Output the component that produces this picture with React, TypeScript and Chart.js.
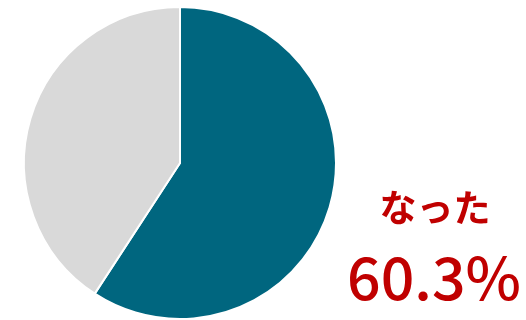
import React, { useEffect, useRef } from "react";
import { Chart, registerables } from "chart.js";

Chart.register(...registerables);

const categories: string[] = ["なった", "ならなかった"];
// slice sizes as drawn in the picture (teal slice covers ~59% of the circle)
const values: number[] = [59.2, 40.8];
const colors: string[] = ["#00667F", "#D9D9D9"];
const labelText = "なった";
const valueText = "60.3%";

export default function App() {
  const ref = useRef<HTMLCanvasElement | null>(null);
  useEffect(() => {
    if (!ref.current) return;
    const chart = new Chart(ref.current, {
      type: "pie",
      data: {
        labels: categories,
        datasets: [
          {
            data: values,
            backgroundColor: colors,
            borderColor: "#FFFFFF",
            borderWidth: 2,
          },
        ],
      },
      options: {
        responsive: false,
        animation: false,
        layout: { padding: { left: 22, right: 188, top: 6, bottom: 0 } },
        plugins: { legend: { display: false }, tooltip: { enabled: false } },
      },
    });
    return () => chart.destroy();
  }, []);
  return (
    <div style={{ position: "absolute", left: 0, top: 0, width: 526, height: 320, background: "#fff" }}>
      <canvas ref={ref} width={526} height={320} style={{ position: "absolute", left: 0, top: 0 }} />
      <div
        style={{
          position: "absolute",
          left: 342,
          width: 186,
          top: 181,
          textAlign: "center",
          color: "#C00000",
          fontFamily: "'Noto Sans CJK JP', sans-serif",
          fontWeight: 700,
          fontSize: 37,
          lineHeight: "50px",
        }}
      >
        {labelText}
      </div>
      <div
        style={{
          position: "absolute",
          left: 341,
          width: 186,
          top: 236,
          textAlign: "center",
          color: "#C00000",
          fontFamily: "'Noto Sans CJK JP', sans-serif",
          fontWeight: 500,
          fontSize: 59,
          lineHeight: "78px",
        }}
      >
        {valueText}
      </div>
    </div>
  );
}
